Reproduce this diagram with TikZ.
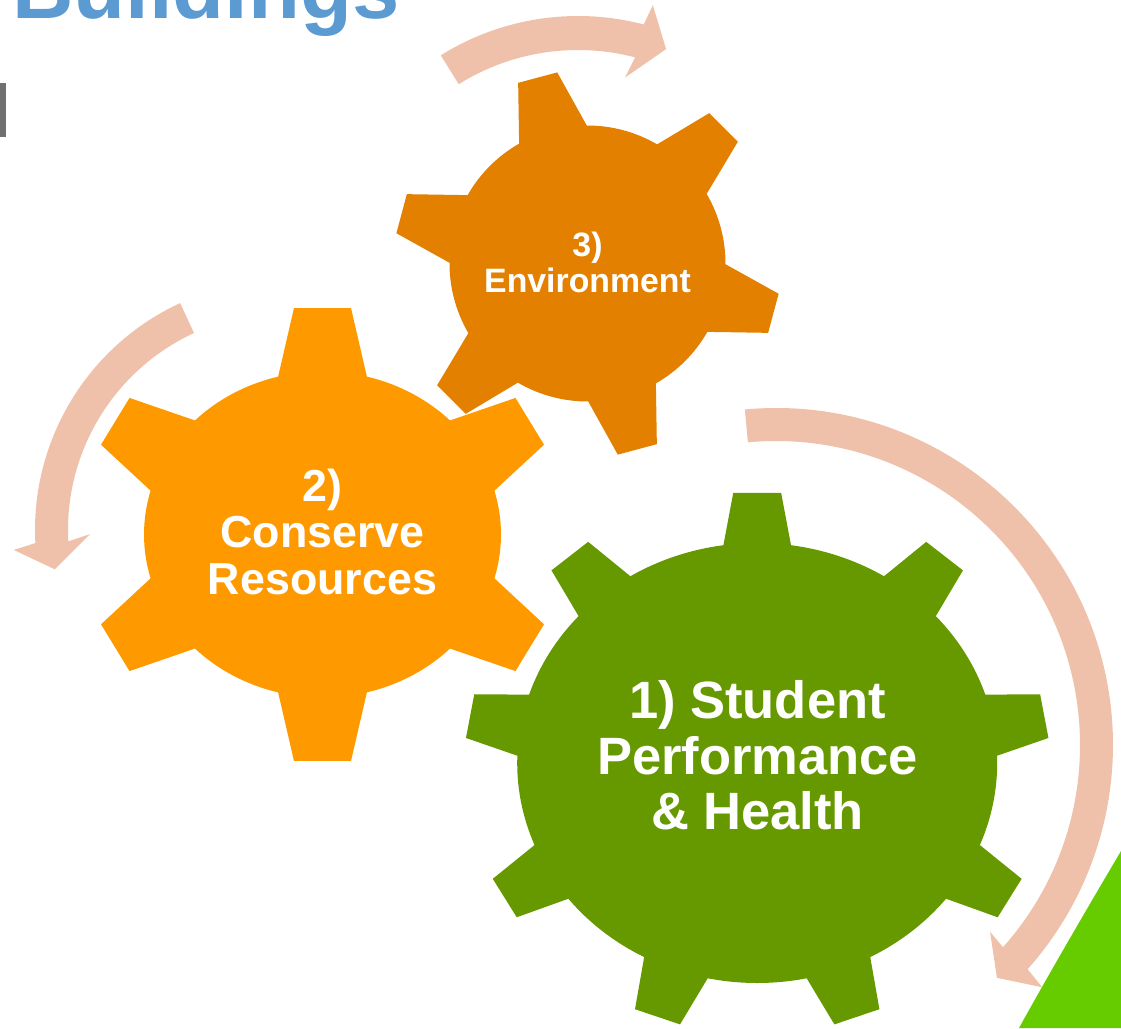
\documentclass[tikz,border=0pt]{standalone}
\usepackage{fontspec}
\setmainfont{Liberation Sans}

\definecolor{titleBlue}{RGB}{91,155,210}
\definecolor{barGray}{RGB}{112,112,112}
\definecolor{gearGreen}{RGB}{102,153,0}
\definecolor{gearOrange}{RGB}{255,153,0}
\definecolor{gearDark}{RGB}{228,128,0}
\definecolor{cycleArrow}{RGB}{240,193,170}
\definecolor{limeGreen}{RGB}{102,204,0}

% gear outline centred on the current origin
% #1 style, #2 teeth, #3 first tooth angle, #4/#5 body radii,
% #6/#7 tip radii, #8 half angle at the root, #9 half angle at the tip
\newcommand\gearfill[9]{%
  \pgfmathsetmacro\gstep{360/#2}%
  \pgfmathtruncatemacro\glast{#2-1}%
  \fill[#1] ({#3-#8}:#4 and #5)
    \foreach \k in {0,...,\glast}{%
      -- ({#3+\k*\gstep-#8}:#4 and #5)
      -- ({#3+\k*\gstep-#9}:#6 and #7)
      -- ({#3+\k*\gstep+#9}:#6 and #7)
      -- ({#3+\k*\gstep+#8}:#4 and #5)
      arc[start angle={#3+\k*\gstep+#8}, end angle={#3+(\k+1)*\gstep-#8},
          x radius=#4, y radius=#5]
    } -- cycle;
}

% curved band arrow centred on the current origin
% #1 outer radius, #2 inner radius, #3 start angle, #4 shaft end angle,
% #5 outer head corner, #6 tip, #7 inner head corner (polar angle:radius)
\newcommand\bandarrow[7]{%
  \fill[arrowband] (#3:#1) arc[start angle=#3, end angle=#4, radius=#1]
    -- (#5) -- (#6) -- (#7) -- (#4:#2)
    arc[start angle=#4, end angle=#3, radius=#2] -- cycle;
}

\begin{document}
\begin{tikzpicture}[x=1pt,y=-1pt,
  arrowband/.style={fill=cycleArrow},
  geartext/.style={text=white,inner sep=0pt,anchor=base},
  bigtext/.style={geartext,font=\fontsize{52.5}{55}\selectfont\bfseries},
  midtext/.style={geartext,font=\fontsize{44.8}{47}\selectfont\bfseries},
  smalltext/.style={geartext,font=\fontsize{33.8}{36}\selectfont\bfseries}]

\useasboundingbox (0,0) rectangle (1121,1028);
\clip (0,0) rectangle (1121,1028);

% heading and side bar
\node[text=titleBlue,inner sep=0pt,anchor=base west,
      font=\fontsize{85}{85}\selectfont\bfseries] (title) at (12,18) {Buildings};
\fill[barGray] (0,83) rectangle (6,137);

% lime corner shape
\fill[limeGreen] (1121,851) .. controls (1085,912) and (1050,972) .. (1019,1028)
  -- (1121,1028) -- cycle;

% cycle arrows
\begin{scope}[shift={(578,275)}]
  \coordinate (arrowTop) at (0,0);
  \bandarrow{259}{225}{-122}{-75.3}{-74.5:280}{-68.7:242.5}{-76.6:203}
\end{scope}
\begin{scope}[shift={(285,530)}]
  \coordinate (arrowLeft) at (0,0);
  \bandarrow{250}{217}{245.2}{177}{175.8:272}{170.3:233.5}{178.8:195}
\end{scope}
\begin{scope}[shift={(776,745)}]
  \coordinate (arrowRight) at (0,0);
  \bandarrow{337}{304}{-95.3}{41.7}{42.3:360}{46.5:321}{41.1:284}
\end{scope}

% gears
\begin{scope}[shift={(587.5,263.5)}]
  \coordinate (gearThree) at (0,0);
  \gearfill{gearDark}{6}{15}{138}{138}{193.5}{193.5}{14.7}{6}
\end{scope}
\begin{scope}[shift={(322.5,534.5)}]
  \coordinate (gearTwo) at (0,0);
  \gearfill{gearOrange}{6}{-90}{178.5}{163}{241}{228}{14.4}{6.8}
\end{scope}
\begin{scope}[shift={(757.2,763)}]
  \coordinate (gearOne) at (0,0);
  \gearfill{gearGreen}{9}{-90}{240}{220}{292.5}{271}{8.1}{4.7}
\end{scope}

% gear labels
\node[smalltext] (envA) at (587.5,256) {3)};
\node[smalltext] (envB) at (587.5,292.5) {Environment};

\node[midtext] (resA) at (322.5,501) {2)};
\node[midtext] (resB) at (322.5,547.5) {Conserve};
\node[midtext] (resC) at (322.5,594) {Resources};

\node[bigtext] (stuA) at (757.5,718.5) {1) Student};
\node[bigtext] (stuB) at (757.5,774) {Performance};
\node[bigtext] (stuC) at (757.5,829.5) {\& Health};
\end{tikzpicture}
\end{document}
